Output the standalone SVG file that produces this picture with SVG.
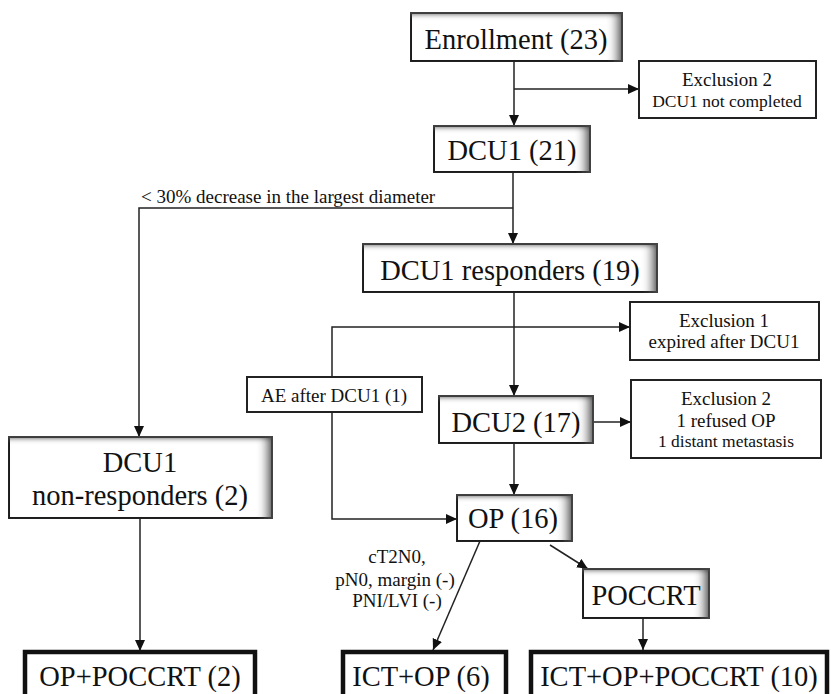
<svg xmlns="http://www.w3.org/2000/svg" width="831" height="694" viewBox="0 0 831 694">
<style>
  text { fill: #111; text-anchor: middle; }
  .big { font-size: 28.5px; }
  .sm { font-size: 19px; }
  .sm2 { font-size: 17.5px; }
  .lbl { font-size: 19px; }
  .sbox { fill: #fff; stroke: #222; stroke-width: 2; }
  .pbox { fill: #fff; stroke: #222; stroke-width: 2; }
  .tbox { fill: #fff; stroke: #111; stroke-width: 4.5; }
  .ln { fill: none; stroke: #222; stroke-width: 1.5; }
</style>
<defs>
  <marker id="arr" markerUnits="userSpaceOnUse" markerWidth="12" markerHeight="10" refX="11" refY="5" orient="auto">
    <path d="M0,0 L11,5 L0,10 Z" fill="#111"/>
  </marker>
  <filter id="inset" x="-20%" y="-30%" width="140%" height="160%">
    <feFlood flood-color="#444" result="f"/>
    <feComposite in="f" in2="SourceAlpha" operator="out" result="outside"/>
    <feOffset in="outside" dx="-7" dy="3" result="off"/>
    <feGaussianBlur in="off" stdDeviation="5 2.5" result="blur"/>
    <feComposite in="blur" in2="SourceAlpha" operator="in" result="shadow"/>
    <feMerge>
      <feMergeNode in="SourceGraphic"/>
      <feMergeNode in="shadow"/>
    </feMerge>
  </filter>
</defs>
<g id="connectors">
  <path class="ln" d="M514 61 V126" marker-end="url(#arr)"/>
  <path class="ln" d="M514 89 H639" marker-end="url(#arr)"/>
  <path class="ln" d="M513 172 V244" marker-end="url(#arr)"/>
  <path class="ln" d="M513 208 H139 V437" marker-end="url(#arr)"/>
  <path class="ln" d="M514 292 V396" marker-end="url(#arr)"/>
  <path class="ln" d="M332 377 V327 H630" marker-end="url(#arr)"/>
  <path class="ln" d="M332 412 V519 H457" marker-end="url(#arr)"/>
  <path class="ln" d="M593 422 H631" marker-end="url(#arr)"/>
  <path class="ln" d="M514 443 V495" marker-end="url(#arr)"/>
  <path class="ln" d="M480 541 L433 650" marker-end="url(#arr)"/>
  <path class="ln" d="M550 545 L588 569" marker-end="url(#arr)"/>
  <path class="ln" d="M643 618 V650" marker-end="url(#arr)"/>
  <path class="ln" d="M140 518 V651" marker-end="url(#arr)"/>
  <text font-family="Liberation Serif" class="lbl" x="141" y="203" style="text-anchor:start">&lt; 30% decrease in the largest diameter</text>
  <text font-family="Liberation Serif" class="lbl" x="397" y="563">cT2N0,</text>
  <text font-family="Liberation Serif" class="lbl" x="395" y="586">pN0, margin (-)</text>
  <text font-family="Liberation Serif" class="lbl" x="397" y="607">PNI/LVI (-)</text>
</g>

<g id="enrollment">
  <rect class="sbox" x="411" y="13" width="211" height="48" filter="url(#inset)"/>
  <text font-family="Liberation Serif" class="big" x="516" y="49">Enrollment (23)</text>
</g>
<g id="exclusion2a">
  <rect class="pbox" x="639" y="61" width="177" height="57"/>
  <text font-family="Liberation Serif" class="sm" x="727" y="86">Exclusion 2</text>
  <text font-family="Liberation Serif" class="sm2" x="727" y="107">DCU1 not completed</text>
</g>
<g id="dcu1">
  <rect class="sbox" x="434" y="126" width="156" height="46" filter="url(#inset)"/>
  <text font-family="Liberation Serif" class="big" x="512" y="160">DCU1 (21)</text>
</g>
<g id="responders">
  <rect class="sbox" x="363" y="244" width="294" height="48" filter="url(#inset)"/>
  <text font-family="Liberation Serif" class="big" x="510" y="280">DCU1 responders (19)</text>
</g>
<g id="exclusion1">
  <rect class="pbox" x="630" y="302" width="189" height="58"/>
  <text font-family="Liberation Serif" class="sm" x="724" y="327">Exclusion 1</text>
  <text font-family="Liberation Serif" class="sm" x="724" y="348">expired after DCU1</text>
</g>
<g id="ae">
  <rect class="pbox" x="247" y="377" width="175" height="35"/>
  <text font-family="Liberation Serif" class="sm" x="334" y="402">AE after DCU1 (1)</text>
</g>
<g id="dcu2">
  <rect class="sbox" x="439" y="396" width="154" height="47" filter="url(#inset)"/>
  <text font-family="Liberation Serif" class="big" x="516" y="432">DCU2 (17)</text>
</g>
<g id="exclusion2b">
  <rect class="pbox" x="631" y="380" width="190" height="78"/>
  <text font-family="Liberation Serif" class="sm" x="726" y="405">Exclusion 2</text>
  <text font-family="Liberation Serif" class="sm" x="726" y="427">1 refused OP</text>
  <text font-family="Liberation Serif" class="sm2" x="726" y="447">1 distant metastasis</text>
</g>
<g id="nonresponders">
  <rect class="sbox" x="9" y="437" width="263" height="81" filter="url(#inset)"/>
  <text font-family="Liberation Serif" class="big" x="140" y="472">DCU1</text>
  <text font-family="Liberation Serif" class="big" x="140" y="505">non-responders (2)</text>
</g>
<g id="op">
  <rect class="sbox" x="457" y="495" width="115" height="46" filter="url(#inset)"/>
  <text font-family="Liberation Serif" class="big" x="513" y="528">OP (16)</text>
</g>
<g id="poccrt">
  <rect class="sbox" x="583" y="569" width="126" height="49" filter="url(#inset)"/>
  <text font-family="Liberation Serif" class="big" x="646" y="605">POCCRT</text>
</g>
<g id="op-poccrt">
  <rect class="tbox" x="25" y="652" width="230" height="50"/>
  <text font-family="Liberation Serif" class="big" x="140" y="686">OP+POCCRT (2)</text>
</g>
<g id="ict-op">
  <rect class="tbox" x="343" y="652" width="163" height="50"/>
  <text font-family="Liberation Serif" class="big" x="421" y="686">ICT+OP (6)</text>
</g>
<g id="ict-op-poccrt">
  <rect class="tbox" x="531" y="652" width="296" height="50"/>
  <text font-family="Liberation Serif" class="big" x="679" y="686">ICT+OP+POCCRT (10)</text>
</g>
</svg>
